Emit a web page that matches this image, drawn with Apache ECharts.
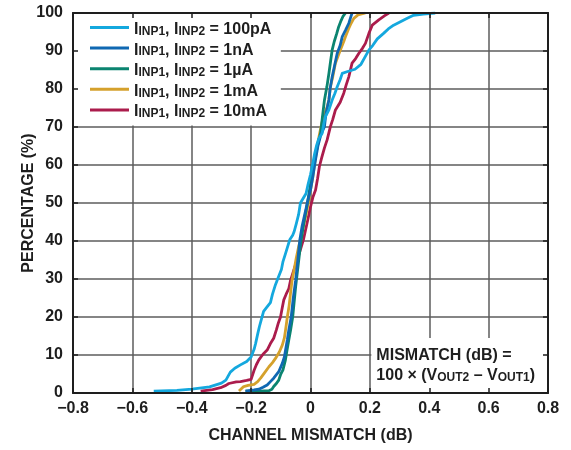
<!DOCTYPE html>
<html>
<head>
<meta charset="utf-8">
<script src="https://cdn.jsdelivr.net/npm/echarts@6/dist/echarts.min.js"></script>
<style>
  html, body { margin: 0; padding: 0; background: #fff; }
  #chart { width: 571px; height: 450px; }
</style>
</head>
<body>
<div id="chart"></div>
<script>
// Axis ranges and tick spacing
const xRange = [-0.8, 0.8];
const xStep = 0.2;
const yRange = [0, 100];
const yStep = 10;

// Legend labels (input current), in legend order
const currents = ['100pA', '1nA', '1µA', '1mA', '10mA'];

// Cumulative distributions: [channel mismatch (dB), percentage (%)]
const dist100pA = [
  [-0.528,0.5],[-0.45,0.7],[-0.40,1.0],[-0.34,1.6],[-0.30,2.6],[-0.285,3.4],[-0.27,5.5],[-0.255,6.5],
  [-0.236,7.4],[-0.215,8.3],[-0.20,9.5],[-0.19,11.5],[-0.185,13],[-0.178,15.5],[-0.172,17.5],[-0.165,19.5],
  [-0.158,21.5],[-0.145,22.8],[-0.135,23.8],[-0.128,26],[-0.118,28.5],[-0.108,30.5],[-0.098,32.5],
  [-0.093,34.5],[-0.085,36.5],[-0.077,38.5],[-0.07,40.3],[-0.06,41.5],[-0.055,42.5],[-0.048,44.5],
  [-0.04,47],[-0.034,50],[-0.025,51.2],[-0.015,52.5],[-0.008,55],[0.0,57.5],[0.008,60.5],[0.014,63],
  [0.02,65],[0.028,67],[0.039,68.3],[0.045,71],[0.05,72.7],[0.062,74.5],[0.073,77.1],[0.082,78.8],
  [0.09,80.6],[0.1,82.5],[0.107,84.1],[0.125,84.6],[0.15,85.2],[0.17,86.5],[0.182,88.2],[0.197,90.3],
  [0.21,91.5],[0.225,93.2],[0.247,94.7],[0.262,95.8],[0.28,96.8],[0.303,97.7],[0.326,98.6],
  [0.347,99.4],[0.38,99.7],[0.42,100]
];
const dist1nA = [
  [-0.219,0.5],[-0.19,0.8],[-0.174,1.0],[-0.16,1.5],[-0.146,2.1],[-0.135,3.0],[-0.124,3.9],[-0.107,5.6],
  [-0.095,7.8],[-0.088,9.5],[-0.084,11.3],[-0.078,14],[-0.073,16.6],[-0.065,20],[-0.058,25],[-0.05,29.7],
  [-0.044,34],[-0.036,40.3],[-0.028,44],[-0.018,47.5],[-0.008,51],[0.0,53.4],[0.008,57],[0.016,61],
  [0.025,65],[0.035,68],[0.047,70.1],[0.052,73.5],[0.062,77.1],[0.066,80],[0.073,83.2],[0.082,86.5],
  [0.09,89.4],[0.1,91.5],[0.107,93.8],[0.118,95.5],[0.129,97.3],[0.135,98.8],[0.14,100]
];
const dist1uA = [
  [-0.219,0.5],[-0.17,0.5],[-0.14,0.6],[-0.13,1.0],[-0.124,1.7],[-0.115,2.5],[-0.107,3.4],[-0.1,5.0],
  [-0.093,6.0],[-0.085,8.5],[-0.079,11.3],[-0.073,14],[-0.067,16.6],[-0.06,20],[-0.055,24],[-0.05,28],
  [-0.044,32],[-0.038,36],[-0.032,40],[-0.024,44],[-0.015,48],[-0.007,51.5],[0.0,55],[0.008,59],
  [0.015,62],[0.022,64.5],[0.028,66.5],[0.034,68.3],[0.04,72.5],[0.047,77.1],[0.055,80.5],[0.062,84.1],
  [0.068,87.5],[0.073,90.3],[0.08,92.5],[0.088,94.5],[0.095,96.4],[0.103,98],[0.11,99.2],[0.118,100]
];
const dist1mA = [
  [-0.241,0.5],[-0.225,1.7],[-0.21,2.0],[-0.19,2.3],[-0.178,3.0],[-0.168,3.9],[-0.155,5.3],[-0.14,6.9],
  [-0.128,8.0],[-0.118,9.1],[-0.105,10.8],[-0.095,12.6],[-0.088,14.5],[-0.084,16.6],[-0.078,20],
  [-0.072,23],[-0.067,26.5],[-0.062,29.7],[-0.055,32.5],[-0.048,35.5],[-0.04,38.5],[-0.034,40.3],
  [-0.025,43.5],[-0.015,47],[-0.006,50.5],[0.0,53.4],[0.008,57],[0.015,61],[0.022,64.5],[0.03,68],
  [0.038,71],[0.048,73.5],[0.056,75.3],[0.062,77.1],[0.067,80.6],[0.075,83.2],[0.084,86.8],[0.092,88.5],
  [0.101,90.3],[0.112,92.5],[0.118,93.8],[0.128,95.8],[0.135,97],[0.146,98.6],[0.16,99.5],[0.185,100]
];
const dist10mA = [
  [-0.37,0.5],[-0.33,0.9],[-0.303,1.4],[-0.285,2.0],[-0.275,2.5],[-0.25,2.9],[-0.236,3.0],[-0.215,3.3],
  [-0.2,3.6],[-0.19,6],[-0.182,7.5],[-0.174,8.7],[-0.16,10.2],[-0.146,11.3],[-0.135,13],[-0.124,14.4],
  [-0.115,16.6],[-0.108,18.5],[-0.101,20],[-0.095,22.5],[-0.09,24.5],[-0.082,26],[-0.073,27.5],
  [-0.067,29.7],[-0.056,32.4],[-0.045,35],[-0.035,37.5],[-0.024,40.3],[-0.015,43.5],[-0.008,46],
  [0.0,49],[0.008,51.5],[0.017,53.4],[0.024,56.5],[0.03,59.6],[0.038,62],[0.047,64.5],[0.056,66.6],
  [0.067,70.1],[0.075,72],[0.084,74.5],[0.1,76.5],[0.112,78.9],[0.12,81],[0.129,83.2],[0.14,86.8],
  [0.152,88],[0.163,89.4],[0.175,90.7],[0.185,92],[0.197,94.7],[0.208,96.8],[0.23,98.2],[0.25,99.3],
  [0.264,100]
];

const palette = {
  '100pA': '#14a8de',
  '1nA':   '#0f68b2',
  '1µA':   '#0b8470',
  '1mA':   '#d5a12c',
  '10mA':  '#ab1c4c'
};
const seriesData = {
  '100pA': dist100pA, '1nA': dist1nA, '1µA': dist1uA, '1mA': dist1mA, '10mA': dist10mA
};

const FONT = '"Liberation Sans", Arial, Helvetica, sans-serif';
const INK = '#1e1e1e';
const GRID = '#5c5c5c';

const fmtX = v => {
  const r = Math.round(v * 10) / 10;
  if (r === 0) return '0';
  return (r < 0 ? '\u2212' : '') + Math.abs(r).toFixed(1);
};

const baseLabel = { fontFamily: FONT, fontSize: 16, fontWeight: 'bold', color: INK };

// Overlay axes: frame edges and inward ticks, drawn above the white boxes
const overlayX = pos => ({
  type: 'value', position: pos, min: xRange[0], max: xRange[1], interval: xStep, z: 10,
  axisLine: { show: true, onZero: false, lineStyle: { color: INK, width: 2 } },
  axisTick: { show: true, inside: true, length: 5, lineStyle: { color: INK, width: 1.5 } },
  axisLabel: { show: false }, splitLine: { show: false }
});
const overlayY = pos => ({
  type: 'value', position: pos, min: yRange[0], max: yRange[1], interval: yStep, z: 10,
  axisLine: { show: true, onZero: false, lineStyle: { color: INK, width: 2 } },
  axisTick: { show: true, inside: true, length: 5, lineStyle: { color: INK, width: 1.5 } },
  axisLabel: { show: false }, splitLine: { show: false }
});

const legendRich = {
  m: { fontFamily: FONT, fontSize: 16, fontWeight: 'bold', color: INK, lineHeight: 20, verticalAlign: 'bottom' },
  s: { fontFamily: FONT, fontSize: 12, fontWeight: 'bold', color: INK, lineHeight: 11, verticalAlign: 'bottom' }
};

// Lines are drawn so that the 100pA trace ends up on top
const drawOrder = ['10mA', '1mA', '1µA', '1nA', '100pA'];

const lineSeries = drawOrder.map(name => ({
  name,
  type: 'line',
  xAxisIndex: 0,
  yAxisIndex: 0,
  data: seriesData[name],
  showSymbol: false,
  symbol: 'none',
  z: 3,
  lineStyle: { color: palette[name], width: 2.8, join: 'round' },
  itemStyle: { color: palette[name] },
  emphasis: { disabled: true },
  animation: false
}));

// White panels behind the legend and behind the formula note
const panelSeries = {
  name: 'panels',
  type: 'line',
  xAxisIndex: 0,
  yAxisIndex: 0,
  data: [],
  z: 1,
  silent: true,
  animation: false,
  markArea: {
    silent: true,
    itemStyle: { color: '#ffffff', borderWidth: 0 },
    data: [
      [ { coord: [-0.8, 70.4] }, { coord: [-0.1, 100] } ],
      [
        {
          coord: [0.205, 0],
          label: {
            show: true,
            position: 'insideTopLeft',
            distance: 0,
            padding: [6, 0, 0, 5],
            formatter: '{m|MISMATCH (dB) =}\n{m|100 × (V}{s|OUT2}{m| – V}{s|OUT1}{m|)}',
            rich: legendRich
          }
        },
        { coord: [0.8, 14.5] }
      ]
    ]
  }
};

const chart = echarts.init(document.getElementById('chart'), null, { renderer: 'canvas' });
chart.setOption({
  animation: false,
  backgroundColor: '#ffffff',
  grid: { left: 73, right: 23, top: 13, bottom: 57, containLabel: false },
  legend: {
    data: currents,
    orient: 'vertical',
    left: 85,
    top: 16.5,
    itemWidth: 39,
    itemHeight: 3,
    itemGap: 4.6,
    icon: 'rect',
    selectedMode: false,
    textStyle: { rich: legendRich },
    formatter: name => '{m|I}{s|INP1}{m|, I}{s|INP2}{m| = ' + name + '}'
  },
  xAxis: [
    {
      type: 'value', position: 'bottom', min: xRange[0], max: xRange[1], interval: xStep,
      name: 'CHANNEL MISMATCH (dB)', nameLocation: 'middle', nameGap: 35, nameMoveOverlap: false,
      nameTextStyle: baseLabel,
      axisLine: { show: false }, axisTick: { show: false },
      axisLabel: Object.assign({ margin: 8, formatter: fmtX }, baseLabel),
      splitLine: { show: true, lineStyle: { color: GRID, width: 1.5 } }
    },
    overlayX('top'),
    overlayX('bottom')
  ],
  yAxis: [
    {
      type: 'value', position: 'left', min: yRange[0], max: yRange[1], interval: yStep,
      name: 'PERCENTAGE (%)', nameLocation: 'middle', nameGap: 36, nameMoveOverlap: false,
      nameTextStyle: baseLabel,
      axisLine: { show: false }, axisTick: { show: false },
      axisLabel: Object.assign({ margin: 10 }, baseLabel),
      splitLine: { show: true, lineStyle: { color: GRID, width: 1.5 } }
    },
    overlayY('right'),
    overlayY('left')
  ],
  series: [panelSeries].concat(lineSeries)
});
</script>
</body>
</html>
